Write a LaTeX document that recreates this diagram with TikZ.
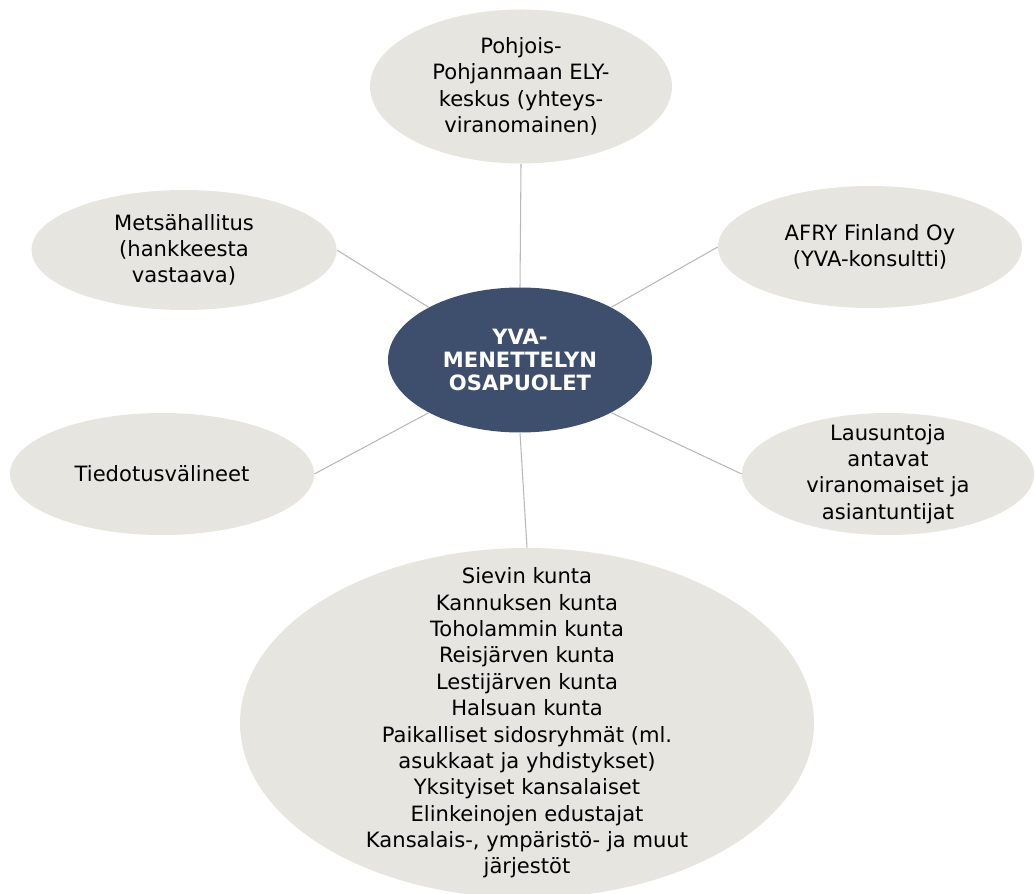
\documentclass[tikz,border=0pt]{standalone}
\usepackage{fontspec}
\setmainfont{DejaVu Sans}
\usetikzlibrary{shapes.geometric}

\definecolor{osabg}{HTML}{E7E5DF}
\definecolor{keskibg}{HTML}{3E4E6D}
\definecolor{viiva}{HTML}{B8B8B8}

\begin{document}
\begin{tikzpicture}[
  osa/.style={ellipse,fill=osabg,inner sep=-3cm,align=center,
    font=\fontsize{12}{15}\selectfont},
  keski/.style={ellipse,fill=keskibg,text=white,inner sep=0pt,align=center,
    font=\fontsize{12}{13.2}\selectfont\bfseries},
  yhteys/.style={draw=viiva,line width=0.6pt}]
  \clip (0,0) rectangle (20.7,17.86);
  \useasboundingbox (0,0) rectangle (20.7,17.86);
  % keskimmainen
  \node[keski,minimum width=5.28cm,minimum height=2.9cm] (ctr) at (10.40,10.66)
    {YVA-\\MENETTELYN\\OSAPUOLET};
  % osapuolet ympärillä
  \node[osa,minimum width=6.04cm,minimum height=3.08cm] (ely) at (10.42,16.13)
    {Pohjois-\\Pohjanmaan ELY-\\keskus (yhteys-\\viranomainen)};
  \node[osa,minimum width=6.1cm,minimum height=2.4cm] (hanke) at (3.68,12.86)
    {Metsähallitus\\(hankkeesta\\vastaava)};
  \node[osa,minimum width=6.08cm,minimum height=2.44cm] (afry) at (17.40,12.92)
    {AFRY Finland Oy\\(YVA-konsultti)};
  \node[osa,minimum width=6.08cm,minimum height=2.44cm] (media) at (3.24,8.38)
    {Tiedotusvälineet};
  \node[osa,minimum width=5.84cm,minimum height=2.44cm] (lausunto) at (17.76,8.38)
    {Lausuntoja\\antavat\\viranomaiset ja\\asiantuntijat};
  \node[osa,minimum width=11.48cm,minimum height=7cm] (osalliset) at (10.54,3.40)
    {Sievin kunta\\Kannuksen kunta\\Toholammin kunta\\Reisjärven kunta\\
     Lestijärven kunta\\Halsuan kunta\\Paikalliset sidosryhmät (ml.\\
     asukkaat ja yhdistykset)\\Yksityiset kansalaiset\\Elinkeinojen edustajat\\
     Kansalais-, ympäristö- ja muut\\järjestöt};
  % viivat
  \draw[yhteys] (ctr.north) -- (ely.south);
  \draw[yhteys] (ctr.150) -- (hanke.east);
  \draw[yhteys] (ctr.30) -- (afry.west);
  \draw[yhteys] (ctr.210) -- (media.east);
  \draw[yhteys] (ctr.-30) -- (lausunto.west);
  \draw[yhteys] (ctr.south) -- (osalliset.north);
\end{tikzpicture}
\end{document}
